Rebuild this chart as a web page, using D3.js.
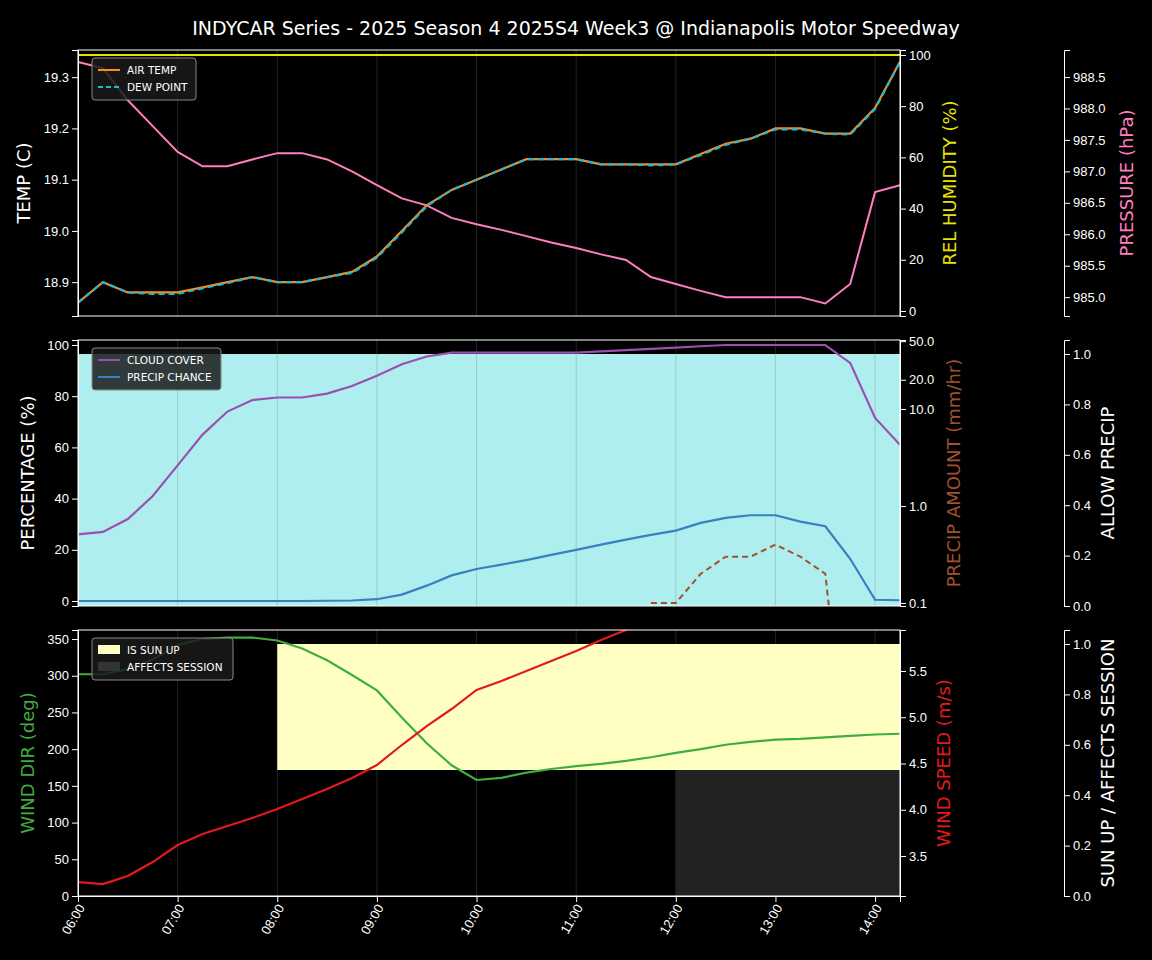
<!DOCTYPE html><html><head><meta charset="utf-8">
<script src="https://cdn.jsdelivr.net/npm/d3@7"></script>
<style>body{margin:0;background:#000}svg{font-family:"DejaVu Sans",sans-serif}</style></head><body>
<svg id="c" width="1152" height="960"></svg>
<script>
const times=["06:00","06:15","06:30","06:45","07:00","07:15","07:30","07:45","08:00","08:15","08:30","08:45","09:00","09:15","09:30","09:45","10:00","10:15","10:30","10:45","11:00","11:15","11:30","11:45","12:00","12:15","12:30","12:45","13:00","13:15","13:30","13:45","14:00","14:15"];
const tickLabels=["06:00","07:00","08:00","09:00","10:00","11:00","12:00","13:00","14:00"];
const airTemp=[18.86,18.90,18.88,18.88,18.88,18.89,18.90,18.91,18.90,18.90,18.91,18.92,18.95,19.00,19.05,19.08,19.10,19.12,19.14,19.14,19.14,19.13,19.13,19.13,19.13,19.15,19.17,19.18,19.20,19.20,19.19,19.19,19.24,19.33];
const dewPoint=[18.86,18.90,18.88,18.877,18.877,18.888,18.898,18.91,18.90,18.90,18.91,18.918,18.948,18.997,19.048,19.08,19.10,19.12,19.14,19.14,19.14,19.13,19.13,19.128,19.13,19.148,19.168,19.18,19.198,19.198,19.19,19.188,19.238,19.33];
const humidity=times.map(()=>100);
const pressure=[988.74,988.64,988.13,987.72,987.31,987.08,987.08,987.19,987.29,987.29,987.19,987.0,986.78,986.57,986.46,986.26,986.16,986.07,985.97,985.87,985.78,985.68,985.59,985.32,985.21,985.1,985.0,985.0,985.0,985.0,984.9,985.21,986.67,986.78];
const cloudCover=[26,27,32,41,53,65,74,78.5,79.5,79.5,81,84,88,92.5,95.5,97,97,97,97,97,97,97.5,98,98.5,99,99.5,100,100,100,100,100,93,71.5,61];
const precipChance=[0,0,0,0,0,0,0,0,0,0,0.1,0.2,0.7,2.5,6,10,12.5,14.2,16,18,20,22,24,25.8,27.5,30.5,32.5,33.5,33.5,31,29.2,16.5,0.5,0.3];
const precipAmount=[null,null,null,null,null,null,null,null,null,null,null,null,null,null,null,null,null,null,null,null,null,null,null,0.1,0.1,0.2,0.3,0.3,0.4,0.3,0.2,0.001,null,null];
const allowPrecip=times.map(()=>1);
const windDir=[302,302,309,322,342,350,352,352,348,337,321,301,280,243,208,178,158,161,168,173,177,180,184,189,195,200,206,210,213,214,216,218,220,221];
const windSpeedPx=[882,884,876,862,845,834,826,818,809,799,789,778,765,745,726,709,690,681,671,661,651,640,630,619,608,598,590,586,584,583,580,575,563,555];
const windSpeed=windSpeedPx.map(y=>+(3.5+(856-y)/92.5).toFixed(3));
const sunUp=[0,0,0,0,0,0,0,0,1,1,1,1,1,1,1,1,1,1,1,1,1,1,1,1,1,1,1,1,1,1,1,1,1,1];
const affectsSession=[0,0,0,0,0,0,0,0,0,0,0,0,0,0,0,0,0,0,0,0,0,0,0,0,1,1,1,1,1,1,1,1,1,1];

const svg=d3.select("#c");
const parse=s=>{const[h,m]=s.split(":");return +h+ +m/60};
const tv=times.map(parse);
const x=d3.scaleLinear().domain([6,14.25]).range([78,900]);
const L=78,R=900;
svg.append("text").attr("x",576).attr("y",35).attr("text-anchor","middle").attr("fill","#fff").attr("font-size",19).text("INDYCAR Series - 2025 Season 4 2025S4 Week3 @ Indianapolis Motor Speedway");
const panels=[[50,316],[340,606],[630,896]];
let cid=0;
function axisStyle(g,col){g.selectAll("path,line").attr("stroke",col||"#fff");g.selectAll("text").attr("fill","#fff").attr("font-size",13);}
function ylabel(xp,yc,txt,col,size){svg.append("text").attr("transform",`translate(${xp},${yc}) rotate(-90)`).attr("text-anchor","middle").attr("fill",col).attr("font-size",size||18).text(txt);}
function clip(t,b){const id="cl"+(cid++);svg.append("clipPath").attr("id",id).append("rect").attr("x",L).attr("y",t).attr("width",R-L).attr("height",b-t);return `url(#${id})`;}
function line(g,xs,ys,ysc,col,w,dash){const ln=d3.line().defined((d,i)=>ys[i]!=null).x((d,i)=>x(xs[i])).y((d,i)=>ysc(ys[i]));const p=g.append("path").datum(xs).attr("d",ln).attr("fill","none").attr("stroke",col).attr("stroke-width",w||2);if(dash)p.attr("stroke-dasharray",dash);return p;}
function grid(t,b){tickLabels.forEach(s=>svg.append("line").attr("x1",x(parse(s))).attr("x2",x(parse(s))).attr("y1",t).attr("y2",b).attr("stroke","#b0b0b0").attr("stroke-opacity",0.25).attr("stroke-width",0.8));}
function frame(t,b){svg.append("rect").attr("x",L).attr("y",t).attr("width",R-L).attr("height",b-t).attr("fill","none").attr("stroke","#fff").attr("stroke-width",1);}
function legend(xp,yp,w,items){const g=svg.append("g").attr("transform",`translate(${xp},${yp})`);g.append("rect").attr("width",w).attr("height",items.length*17+8).attr("rx",3).attr("fill","#1a1a1a").attr("fill-opacity",0.85).attr("stroke","#888");items.forEach((it,i)=>{const yy=12+i*17;if(it.box)g.append("rect").attr("x",6).attr("y",yy-5).attr("width",22).attr("height",9).attr("fill",it.col);else{g.append("line").attr("x1",6).attr("x2",28).attr("y1",yy).attr("y2",yy).attr("stroke",it.col).attr("stroke-width",2).attr("stroke-dasharray",it.dash||null);}g.append("text").attr("x",35).attr("y",yy+4).attr("fill","#fff").attr("font-size",10.5).text(it.t);});}

// Panel 1
{const[t,b]=panels[0];const cp=clip(t,b);grid(t,b);
const yT=d3.scaleLinear().domain([18.834,19.353]).range([b,t]);
const yH=d3.scaleLinear().domain([-1.95,101.95]).range([b,t]);
const yP=d3.scaleLinear().domain([984.70,988.93]).range([b,t]);
const g=svg.append("g").attr("clip-path",cp);
line(g,tv,humidity,yH,"#e5e500",2);
line(g,tv,pressure,yP,"#ff7fbf",2);
line(g,tv,airTemp,yT,"#ff8c1a",2.2);
line(g,tv,dewPoint,yT,"#20b8d0",2.2,"6,4");
frame(t,b);
axisStyle(svg.append("g").attr("transform",`translate(${L},0)`).call(d3.axisLeft(yT).tickValues([18.9,19.0,19.1,19.2,19.3]).tickFormat(d3.format(".1f"))));
axisStyle(svg.append("g").attr("transform",`translate(${R},0)`).call(d3.axisRight(yH).tickValues([0,20,40,60,80,100])));
axisStyle(svg.append("g").attr("transform",`translate(1064,0)`).call(d3.axisRight(yP).tickValues([985,985.5,986,986.5,987,987.5,988,988.5]).tickFormat(d3.format(".1f"))));
svg.selectAll("g").filter(function(){return false});
ylabel(30,183,"TEMP (C)","#fff");ylabel(956,183,"REL HUMIDITY (%)","#e5e500");ylabel(1133,183,"PRESSURE (hPa)","#ff7fbf");
legend(92,58,104,[{t:"AIR TEMP",col:"#ff8c1a"},{t:"DEW POINT",col:"#20b8d0",dash:"5,3"}]);}

// Panel 2
{const[t,b]=panels[1];const cp=clip(t,b);
const yA=d3.scaleLinear().domain([0,1.0556]).range([b,t]);
const yPc=d3.scaleLinear().domain([-1.95,101.95]).range([b,t]);
const yPa=d3.scaleLog().domain([0.0931,51.4]).range([b,t]);
const g=svg.append("g").attr("clip-path",cp);
g.append("path").datum(tv).attr("d",d3.area().x(d=>x(d)).y0(yA(0)).y1((d,i)=>yA(allowPrecip[i]))).attr("fill","#afeeee");
tickLabels.forEach(s=>g.append("line").attr("x1",x(parse(s))).attr("x2",x(parse(s))).attr("y1",t).attr("y2",b).attr("stroke","#777").attr("stroke-opacity",0.3));
line(g,tv,cloudCover,yPc,"#9b4fb0",2.2);
line(g,tv,precipChance,yPc,"#3a7fc0",2.2);
line(g,tv,precipAmount,yPa,"#a0522d",2,"6,4");
frame(t,b);
axisStyle(svg.append("g").attr("transform",`translate(${L},0)`).call(d3.axisLeft(yPc).tickValues([0,20,40,60,80,100])));
axisStyle(svg.append("g").attr("transform",`translate(${R},0)`).call(d3.axisRight(yPa).tickValues([0.1,1,10,20,50]).tickFormat(d3.format(".1f"))));
axisStyle(svg.append("g").attr("transform",`translate(1064,0)`).call(d3.axisRight(yA).tickValues([0,0.2,0.4,0.6,0.8,1.0]).tickFormat(d3.format(".1f"))));
ylabel(34,473,"PERCENTAGE (%)","#fff");ylabel(960,473,"PRECIP AMOUNT (mm/hr)","#a0522d");ylabel(1114,473,"ALLOW PRECIP","#fff");
legend(92,348,129,[{t:"CLOUD COVER",col:"#9b4fb0"},{t:"PRECIP CHANCE",col:"#3a7fc0"}]);}

// Panel 3
{const[t,b]=panels[2];const cp=clip(t,b);grid(t,b);
const yS=d3.scaleLinear().domain([0,1.0556]).range([b,t]);
const yD=d3.scaleLinear().domain([0,362.3]).range([b,t]);
const yW=d3.scaleLinear().domain([3.068,5.943]).range([b,t]);
const g=svg.append("g").attr("clip-path",cp);
g.append("path").datum(tv).attr("d",d3.area().defined((d,i)=>sunUp[i]>0||(i<tv.length-1&&sunUp[i+1]>0)).curve(d3.curveStepAfter).x(d=>x(d)).y0(yS(0.5)).y1((d,i)=>yS(0.5+0.5*sunUp[i]))).attr("fill","#ffffc4");
g.append("path").datum(tv).attr("d",d3.area().curve(d3.curveStepAfter).x(d=>x(d)).y0(yS(0)).y1((d,i)=>yS(0.5*affectsSession[i]))).attr("fill","#222");
line(g,tv,windDir,yD,"#3fae3f",2.2);
line(g,tv,windSpeed,yW,"#e31a1c",2.2);
frame(t,b);
axisStyle(svg.append("g").attr("transform",`translate(${L},0)`).call(d3.axisLeft(yD).tickValues([0,50,100,150,200,250,300,350])));
axisStyle(svg.append("g").attr("transform",`translate(${R},0)`).call(d3.axisRight(yW).tickValues([3.5,4.0,4.5,5.0,5.5]).tickFormat(d3.format(".1f"))));
axisStyle(svg.append("g").attr("transform",`translate(1064,0)`).call(d3.axisRight(yS).tickValues([0,0.2,0.4,0.6,0.8,1.0]).tickFormat(d3.format(".1f"))));
const xa=svg.append("g").attr("transform",`translate(0,${b})`).call(d3.axisBottom(x).tickValues(tickLabels.map(parse)).tickFormat((d,i)=>tickLabels[i]));
axisStyle(xa);
xa.selectAll("text").attr("transform","rotate(-60)").attr("text-anchor","end").attr("dx","-0.5em").attr("dy","0.2em");
ylabel(34,763,"WIND DIR (deg)","#3fae3f");ylabel(950,763,"WIND SPEED (m/s)","#e31a1c");ylabel(1114,763,"SUN UP / AFFECTS SESSION","#fff");
legend(92,638,141,[{t:"IS SUN UP",col:"#ffffc4",box:true},{t:"AFFECTS SESSION",col:"#333",box:true}]);}
</script></body></html>
